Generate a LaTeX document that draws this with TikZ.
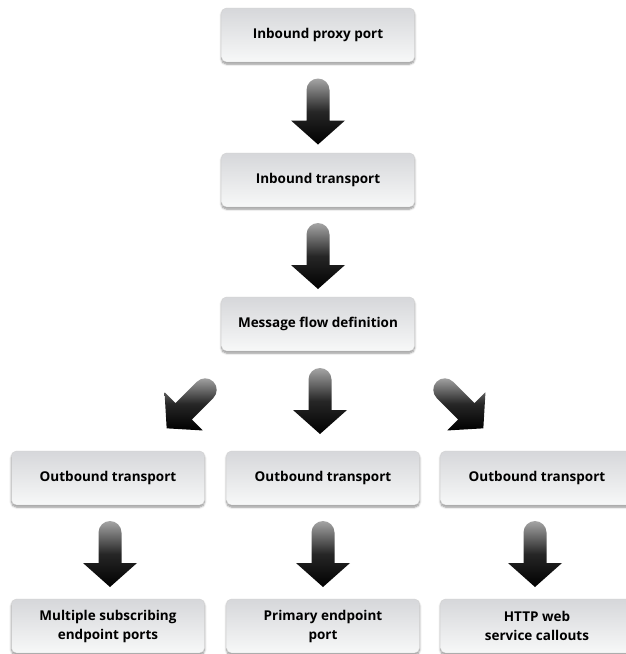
\documentclass[tikz,border=0pt]{standalone}
\usepackage{fontspec}
\setmainfont{Open Sans}
\usetikzlibrary{calc, shadows.blur}
\definecolor{boxtop}{RGB}{214,215,218}
\definecolor{boxbottom}{RGB}{247,248,248}
\definecolor{shaftgray}{RGB}{165,165,165}

\tikzset{
  box/.style={rectangle, draw=gray!35, rounded corners=5pt, minimum width=193pt, minimum height=54pt, align=center,
    top color=boxtop, bottom color=boxbottom, font=\fontsize{13.5}{19}\selectfont\bfseries,
    blur shadow={shadow xshift=0pt, shadow yshift=-2pt, shadow blur steps=6, shadow opacity=45}},
  fatarrow/.pic={
    \path[top color=shaftgray, bottom color=black, middle color=black!85]
      (-11.5pt,-9pt) -- (-11.5pt,21.5pt) arc[start angle=180, end angle=0, radius=11.5pt]
      -- (11.5pt,-9pt) -- (27pt,-9pt) -- (0pt,-33pt) -- (-27pt,-9pt) -- cycle;
  }
}

\begin{document}
\begin{tikzpicture}[x=1pt, y=-1pt]
\useasboundingbox (0,0) rectangle (626,654);

% main chain
\node[box] (proxy) at (318,35) {Inbound proxy port};
\node[box] (intrans) at (318,180) {Inbound transport};
\node[box] (flow) at (318,324) {Message flow definition};

% outbound transports
\node[box] (outa) at (108,478) {Outbound transport};
\node[box] (outb) at (323,478) {Outbound transport};
\node[box] (outc) at (537,478) {Outbound transport};

% endpoints
\node[box] (multi) at (108,626) {Multiple subscribing\\endpoint ports};
\node[box] (primary) at (323,626) {Primary endpoint\\port};
\node[box] (http) at (537,626) {HTTP web\\service callouts};

% arrows
\pic at ($(proxy.south)!0.5!(intrans.north)+(0,4)$) {fatarrow};
\pic at ($(intrans.south)!0.5!(flow.north)+(0,4)$) {fatarrow};
\pic[rotate=-45] at (190,405) {fatarrow};
\pic at (320,401) {fatarrow};
\pic[rotate=45] at (460,405) {fatarrow};
\pic at ($(outa.south)!0.5!(multi.north)+(2,2)$) {fatarrow};
\pic at ($(outb.south)!0.5!(primary.north)+(0,2)$) {fatarrow};
\pic at ($(outc.south)!0.5!(http.north)+(-2,2)$) {fatarrow};

\end{tikzpicture}
\end{document}
